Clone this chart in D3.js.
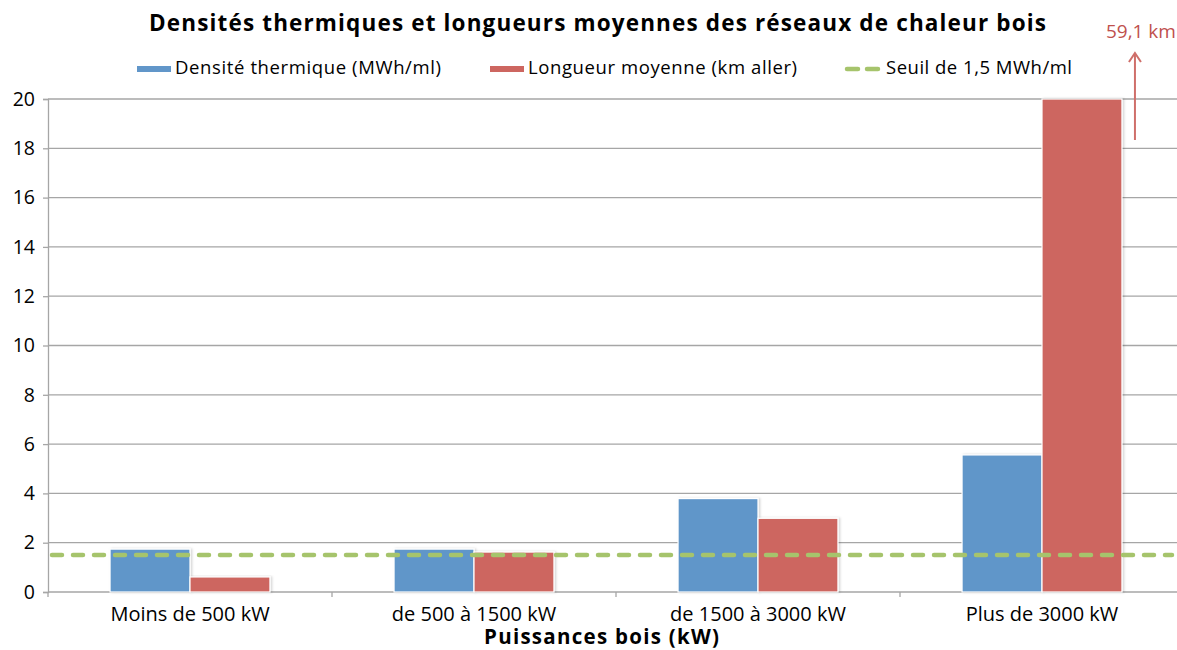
<!DOCTYPE html>
<html><head><meta charset="utf-8">
<script src="https://cdn.jsdelivr.net/npm/d3@7"></script>
<style>
html,body{margin:0;padding:0;background:#fff;}
svg{display:block;font-family:"Open Sans","Noto Sans",sans-serif;}
</style></head>
<body><svg id="c" width="1177" height="650"></svg>
<script>
const categories = ["Moins de 500 kW", "de 500 à 1500 kW", "de 1500 à 3000 kW", "Plus de 3000 kW"];
const densite = [1.74, 1.74, 3.79, 5.56];
const longueur = [0.61, 1.62, 2.99, 59.1];
const seuil = 1.5;
const yTicks = [0, 2, 4, 6, 8, 10, 12, 14, 16, 18, 20];
const seriesNames = ["Densité thermique (MWh/ml)", "Longueur moyenne (km aller)", "Seuil de 1,5 MWh/ml"];
const title = "Densités thermiques et longueurs moyennes des réseaux de chaleur bois";
const xTitle = "Puissances bois (kW)";
const overflowLabel = "59,1 km";

(function(){
const FONT = '"Open Sans","Noto Sans",sans-serif';
const colors = {blue: "#6196C9", red: "#CD6660", green: "#A6C46C", grid: "#A6A6A6"};
const svg = d3.select("#c");
const pLeft = 48, pRight = 1184, pTop = 99, pBottom = 592;

const x0 = d3.scaleBand().domain(categories).range([pLeft, pRight]).padding(0);
const groupW = x0.bandwidth() * 0.563;
const x1 = d3.scaleBand().domain(["d", "l"]).range([0, groupW]).padding(0);
const y = d3.scaleLinear().domain([0, 20]).range([pBottom, pTop]).clamp(true);

// gridlines
svg.append("g").selectAll("line").data(yTicks.filter(d => d > 0)).join("line")
  .attr("x1", pLeft).attr("x2", 1177).attr("y1", d => y(d)).attr("y2", d => y(d))
  .attr("stroke", colors.grid).attr("stroke-width", 1.3);

// y axis
const yAxis = svg.append("g").attr("transform", `translate(${pLeft},0)`)
  .call(d3.axisLeft(y).tickValues(yTicks).tickSize(5).tickPadding(8));
yAxis.select(".domain").attr("stroke", colors.grid).attr("stroke-width", 1.3);
yAxis.selectAll(".tick line").attr("stroke", colors.grid).attr("stroke-width", 1.3);
yAxis.selectAll(".tick text").attr("font-size", 19.5).attr("fill", "#000")
  .attr("font-family", FONT).attr("x", -13);

// x axis
const xAxis = svg.append("g").attr("transform", `translate(0,${pBottom})`)
  .call(d3.axisBottom(x0).tickSize(0).tickPadding(15));
xAxis.select(".domain").remove();
svg.append("line").attr("x1", pLeft).attr("x2", 1177).attr("y1", pBottom).attr("y2", pBottom)
  .attr("stroke", colors.grid).attr("stroke-width", 1.3);
const edges = categories.map(c => x0(c)).concat([x0(categories[categories.length-1]) + x0.bandwidth()]);
svg.append("g").selectAll("line").data(edges).join("line")
  .attr("x1", d => d).attr("x2", d => d).attr("y1", pBottom).attr("y2", pBottom + 5)
  .attr("stroke", colors.grid).attr("stroke-width", 1.3);
xAxis.selectAll(".tick text").attr("font-size", 20).attr("fill", "#000")
  .attr("font-family", FONT);

// shadow filter
const defs = svg.append("defs");
const f = defs.append("filter").attr("id", "sh").attr("x", "-10%").attr("y", "-10%").attr("width", "130%").attr("height", "130%");
f.append("feDropShadow").attr("dx", 1.5).attr("dy", 0).attr("stdDeviation", 1.2).attr("flood-color", "#000").attr("flood-opacity", 0.18);

// bars
const groups = svg.append("g").selectAll("g").data(categories).join("g")
  .attr("transform", c => `translate(${x0(c) + (x0.bandwidth() - groupW) / 2},0)`);
groups.append("rect")
  .attr("x", x1("d")).attr("width", x1.bandwidth())
  .attr("y", (c, i) => y(densite[i])).attr("height", (c, i) => pBottom - y(densite[i]))
  .attr("fill", colors.blue).attr("stroke", "#fff").attr("stroke-width", 1.2).attr("filter", "url(#sh)");
groups.append("rect")
  .attr("x", x1("l")).attr("width", x1.bandwidth())
  .attr("y", (c, i) => y(longueur[i])).attr("height", (c, i) => pBottom - y(longueur[i]))
  .attr("fill", colors.red).attr("stroke", "#fff").attr("stroke-width", 1.2).attr("filter", "url(#sh)");

// threshold line
svg.append("line").attr("x1", pLeft + 4).attr("x2", 1172).attr("y1", y(seuil)).attr("y2", y(seuil))
  .attr("stroke", colors.green).attr("stroke-width", 4.5)
  .attr("stroke-dasharray", "10,11").attr("stroke-linecap", "round");

// overflow arrow for last red bar
const lastIdx = categories.length - 1;
const ax = x0(categories[lastIdx]) + (x0.bandwidth() - groupW) / 2 + x1("l") + x1.bandwidth() + 13;
svg.append("line").attr("x1", ax).attr("x2", ax).attr("y1", 140).attr("y2", 54)
  .attr("stroke", "#CF6F6A").attr("stroke-width", 2);
svg.append("path").attr("d", `M${ax-6},${62} L${ax},${53} L${ax+6},${62}`)
  .attr("fill", "none").attr("stroke", "#CF6F6A").attr("stroke-width", 2);
svg.append("text").attr("x", ax + 6).attr("y", 38).attr("text-anchor", "middle")
  .attr("font-size", 19).attr("fill", "#C0504D").text(overflowLabel);

// title
svg.append("text").attr("x", 149).attr("y", 31)
  .attr("font-size", 22.5).attr("font-weight", "bold").attr("fill", "#000")
  .attr("textLength", 897).attr("lengthAdjust", "spacing").text(title);

// legend
const leg = [
  {x: 137, w: 34, color: colors.blue, type: "rect", tx: 175, tw: 266},
  {x: 490, w: 34, color: colors.red, type: "rect", tx: 528, tw: 269},
  {x: 845, w: 36, color: colors.green, type: "dash", tx: 886, tw: 186}
];
leg.forEach((l, i) => {
  if (l.type === "rect") {
    svg.append("rect").attr("x", l.x).attr("y", 66).attr("width", l.w).attr("height", 6).attr("fill", l.color);
  } else {
    svg.append("line").attr("x1", l.x + 2).attr("x2", l.x + l.w - 2).attr("y1", 69).attr("y2", 69)
      .attr("stroke", l.color).attr("stroke-width", 4.5).attr("stroke-dasharray", "11,9").attr("stroke-linecap", "round");
  }
  svg.append("text").attr("x", l.tx).attr("y", 73.5).attr("font-size", 18.5).attr("fill", "#000")
    .attr("textLength", l.tw).attr("lengthAdjust", "spacing").text(seriesNames[i]);
});

// x title
svg.append("text").attr("x", 484).attr("y", 644)
  .attr("font-size", 20.5).attr("font-weight", "bold").attr("fill", "#000")
  .attr("textLength", 235).attr("lengthAdjust", "spacing").text(xTitle);
})();
</script></body></html>
